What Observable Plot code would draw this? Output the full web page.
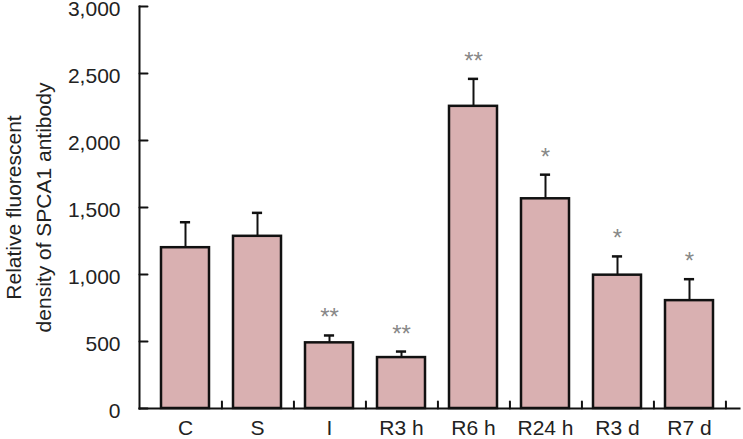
<!DOCTYPE html>
<html><head><meta charset="utf-8">
<script src="https://cdn.jsdelivr.net/npm/d3@7"></script>
<script src="https://cdn.jsdelivr.net/npm/@observablehq/plot@0.6"></script>
<style>
body{margin:0;background:#fff;}
#chart svg{font-family:"Liberation Sans", Arial, sans-serif;}
</style>
</head><body><div id="chart"></div>
<script>
const categories = ["C","S","I","R3 h","R6 h","R24 h","R3 d","R7 d"];
const values = [1200,1285,490,380,2255,1565,995,805];
const upper = [1390,1460,545,425,2460,1745,1135,965];
const stars = ["","","**","**","**","*","*","*"];
const yTicks = [0,500,1000,1500,2000,2500,3000];
const yLabel = "Relative fluorescent\ndensity of SPCA1 antibody";

const data = categories.map((c,i)=>({c, v: values[i], u: upper[i], s: stars[i]}));

const W = 743, H = 439;
const mL = 139, mR = 4, mT = 6, mB = 31;
const insL = 7, insR = 10;
const step = (W - mL - mR - insL - insR) / categories.length;
const bandW = step * 0.67;
const capW = 11;

const lineShape = {draw(ctx, l){ ctx.moveTo(0,0); ctx.lineTo(0,-l); }};

const chart = Plot.plot({
  width: W, height: H,
  marginLeft: mL, marginRight: mR, marginTop: mT, marginBottom: mB,
  style: {fontFamily: "Liberation Sans, Arial, sans-serif", fontSize: "21px", color: "#222", background: "#fff", overflow: "visible"},
  x: {domain: categories, paddingInner: 0.33, paddingOuter: 0.165, insetLeft: insL, insetRight: insR, label: null},
  y: {domain: [0, 3000], label: null},
  marks: [
    Plot.ruleX(data, {x: "c", y1: "v", y2: "u", stroke: "#111", strokeWidth: 2}),
    Plot.tickY(data, {x: "c", y: "u", stroke: "#111", strokeWidth: 2.5, insetLeft: (bandW-capW)/2, insetRight: (bandW-capW)/2}),
    Plot.barY(data, {x: "c", y: "v", fill: "#d9b0b1", stroke: "#111", strokeWidth: 2.5}),
    Plot.text(data, {x: "c", y: "u", text: "s", lineAnchor: "bottom", dy: -10, fontSize: 24, fill: "#888", letterSpacing: 1}),
    Plot.frame({anchor: "left", stroke: "#111", strokeWidth: 2}),
    Plot.frame({anchor: "bottom", stroke: "#111", strokeWidth: 2}),
    Plot.vector(yTicks, {y: d => d, frameAnchor: "left", rotate: 90, length: 8, anchor: "start", shape: lineShape, stroke: "#111", strokeWidth: 2}),
    Plot.vector(categories, {x: d => d, y: 0, dx: step/2, rotate: 0, length: 7, anchor: "start", shape: lineShape, stroke: "#111", strokeWidth: 2}),
    Plot.axisY({ticks: yTicks, tickSize: 0, tickPadding: 19, dy: 3, tickFormat: d3.format(","), fontSize: 21, fill: "#222", label: null}),
    Plot.axisX({tickSize: 0, tickPadding: 12, fontSize: 21, fill: "#222", label: null}),
    Plot.text([yLabel], {frameAnchor: "left", textAnchor: "middle", rotate: -90, dx: -113, fontSize: 21, lineHeight: 1.43, fill: "#222"})
  ]
});
document.getElementById("chart").appendChild(chart);
</script>
</body></html>
